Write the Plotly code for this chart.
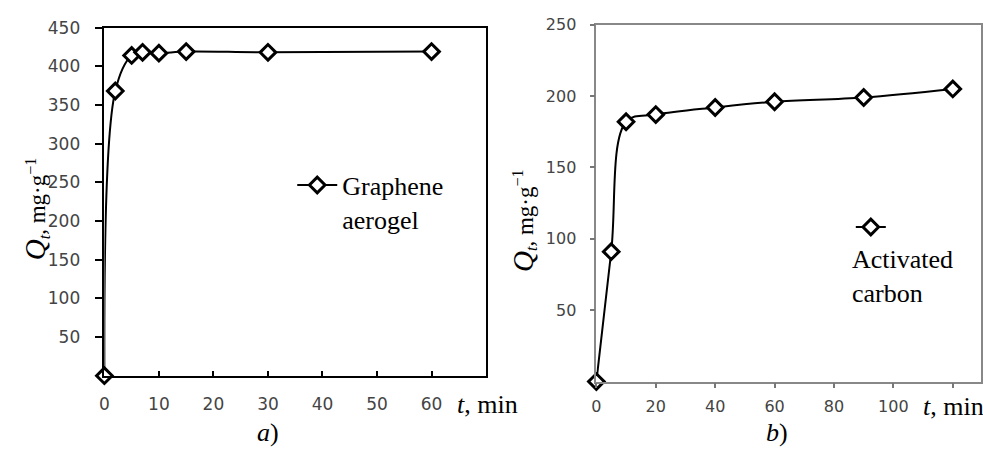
import plotly.graph_objects as go

# Data (a) graphene aerogel
t_a = [0, 2, 5, 7, 10, 15, 30, 60]
q_a = [0, 368, 414, 418, 417, 419, 418, 419]
# Data (b) activated carbon
t_b = [0, 5, 10, 20, 40, 60, 90, 120]
q_b = [0, 91, 182, 187, 192, 196, 199, 205]

xt_a = [0, 10, 20, 30, 40, 50, 60]
yt_a = [50, 100, 150, 200, 250, 300, 350, 400, 450]
xt_b = [0, 20, 40, 60, 80, 100]
xt_b_unlabeled = [120]
yt_b = [50, 100, 150, 200, 250]

W, H = 983, 450
def px(x):
    return x / W
def py(y):
    return 1 - y / H

SERIF = "Liberation Serif"
SANS = "DejaVu Sans"

marker = dict(symbol="diamond", size=12, color="white", line=dict(color="black", width=3))

fig = go.Figure()
fig.add_trace(go.Scatter(x=t_a, y=q_a, mode="lines+markers", name="Graphene<br>aerogel",
                         line=dict(color="black", width=2, shape="spline", smoothing=1),
                         marker=marker, cliponaxis=False, xaxis="x", yaxis="y",
                         legend="legend", showlegend=True))
fig.add_trace(go.Scatter(x=t_b, y=q_b, mode="lines+markers", name=" ",
                         line=dict(color="black", width=2, shape="spline", smoothing=1),
                         marker=marker, cliponaxis=False, xaxis="x2", yaxis="y2",
                         legend="legend2", showlegend=True))

tickfont = dict(family=SANS, size=16, color="#444")

fig.update_layout(
    width=W, height=H, margin=dict(l=0, r=0, t=0, b=0),
    paper_bgcolor="white", plot_bgcolor="white", showlegend=True,
    xaxis=dict(domain=[px(100), px(484)], range=[0, 70], tickvals=xt_a,
               ticks="inside", ticklen=5, tickcolor="black", tickwidth=1.5,
               showline=True, mirror=True, linecolor="black", linewidth=1.5,
               showgrid=False, zeroline=False, tickfont=dict(family=SANS, size=17, color="#444"),
               ticklabelstandoff=12, anchor="y"),
    yaxis=dict(domain=[py(374), py(18)], range=[0, 450], tickvals=yt_a,
               ticks="outside", ticklen=8, tickcolor="black", tickwidth=1.5,
               showline=True, mirror=True, linecolor="black", linewidth=1.5,
               showgrid=False, zeroline=False, tickfont=dict(family=SANS, size=17, color="#444"),
               ticklabelstandoff=11, anchor="x"),
    xaxis2=dict(domain=[px(595), px(982)], range=[0, 129.5], tickvals=xt_b,
                ticks="outside", ticklen=5, tickcolor="#777", tickwidth=1.5,
                minor=dict(tickvals=xt_b_unlabeled, ticks="outside", ticklen=5,
                           tickcolor="#777", tickwidth=1.5, showgrid=False),
                showline=True, mirror=True, linecolor="#888", linewidth=1.5,
                showgrid=False, zeroline=False, tickfont=tickfont,
                ticklabelstandoff=4, anchor="y2"),
    yaxis2=dict(domain=[py(380), py(15)], range=[0, 250], tickvals=yt_b,
                ticks="outside", ticklen=5, tickcolor="#777", tickwidth=1.5,
                showline=True, mirror=True, linecolor="#888", linewidth=1.5,
                showgrid=False, zeroline=False, tickfont=tickfont,
                ticklabelstandoff=10, anchor="x2"),
    legend=dict(x=px(289), y=py(155), xanchor="left", yanchor="top", valign="top",
                itemwidth=40,
                bgcolor="rgba(0,0,0,0)", font=dict(family=SERIF, size=26, color="black")),
    legend2=dict(x=px(851), y=py(198), xanchor="left", yanchor="top", valign="top",
                 bgcolor="rgba(0,0,0,0)", font=dict(family=SERIF, size=26, color="black")),
)

ytitle = "<i><span style='font-size:29px'>Q</span><sub>t</sub></i>, mg·g<sup>−1</sup>"
ann = [
    dict(x=px(32), y=py(203), text=ytitle, textangle=-90, size=23),
    dict(x=px(522), y=py(215), text=ytitle, textangle=-90, size=23),
    dict(x=px(453), y=py(403), text="<i>t</i>, min", xanchor="left", size=26),
    dict(x=px(922), y=py(405), text="<i>t</i>, min", xanchor="left", size=26),
    dict(x=px(265), y=py(432), text="<i>a</i>)", size=26),
    dict(x=px(777), y=py(432), text="<i>b</i>)", size=26),
    dict(x=px(850), y=py(273), text="Activated<br>carbon", xanchor="left", align="left", size=26),
]
for a in ann:
    a.setdefault("xanchor", "center")
    s = a.pop("size")
    fig.add_annotation(xref="paper", yref="paper", yanchor="middle", showarrow=False,
                       font=dict(family=SERIF, size=s, color="black"), **a)

fig.write_html("out.html")
